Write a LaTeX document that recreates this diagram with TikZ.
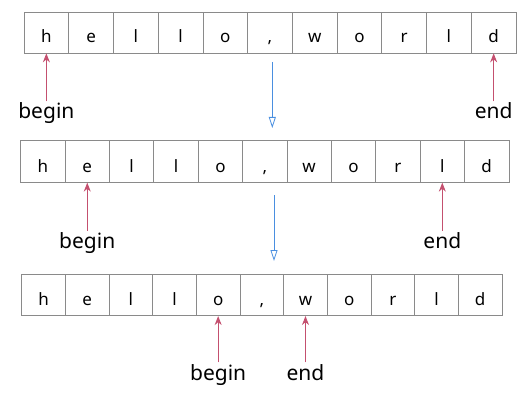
\documentclass[tikz,border=0pt]{standalone}
\usepackage{fontspec}
\setmainfont{Noto Sans}
\usetikzlibrary{arrows.meta}
\definecolor{cellgray}{HTML}{8A8A8A}
\definecolor{ptrred}{HTML}{C4506F}
\definecolor{flowblue}{HTML}{4A8FE0}
\tikzset{
  cellbox/.style={draw=cellgray, line width=0.7pt, inner sep=0pt, text height=21pt, text depth=0pt, font=\fontsize{17}{19}\selectfont},
  ptrlabel/.style={inner sep=1.5pt, anchor=base, font=\fontsize{21}{24}\selectfont},
  ptrarrow/.style={draw=ptrred, line width=1pt, -{Stealth[length=9pt,width=7pt]}},
  flowarrow/.style={draw=flowblue, line width=0.8pt, -{Triangle[open, length=11pt, width=7pt]}}
}
\begin{document}
\begin{tikzpicture}[x=1pt,y=-1pt]
\useasboundingbox (0,0) rectangle (531,404);
% row 1
\foreach \c [count=\i] in {h,e,l,l,o,{,},w,o,r,l,d}{
  \node[cellbox, minimum width=44.73pt, minimum height=41pt] (a\i) at ({24+44.73*(\i-0.5)},32.5) {\c};
}
% row 2
\foreach \c [count=\i] in {h,e,l,l,o,{,},w,o,r,l,d}{
  \node[cellbox, minimum width=44.38pt, minimum height=41.6pt] (b\i) at ({20.7+44.38*(\i-0.5)},161.5) {\c};
}
% row 3
\foreach \c [count=\i] in {h,e,l,l,o,{,},w,o,r,l,d}{
  \node[cellbox, minimum width=43.66pt, minimum height=41.7pt] (c\i) at ({21.7+43.66*(\i-0.5)},294.85) {\c};
}
% labels
\node[ptrlabel] (begA) at (a1 |- 0,119) {begin};
\node[ptrlabel] (endA) at (a11 |- 0,119) {end};
\node[ptrlabel] (begB) at (b2 |- 0,248.5) {begin};
\node[ptrlabel] (endB) at (b10 |- 0,248.5) {end};
\node[ptrlabel] (begC) at (c5 |- 0,380) {begin};
\node[ptrlabel] (endC) at (c7 |- 0,380) {end};
% pointer arrows
\draw[ptrarrow] (begA.north) -- (a1.south);
\draw[ptrarrow] (endA.north) -- (a11.south);
\draw[ptrarrow] (begB.north) -- (b2.south);
\draw[ptrarrow] (endB.north) -- (b10.south);
\draw[ptrarrow] (begC.north) -- (c5.south);
\draw[ptrarrow] (endC.north) -- (c7.south);
% flow arrows
\coordinate (f1s) at (272.3,62);
\coordinate (f1e) at (272.3,128);
\coordinate (f2s) at (274,195);
\coordinate (f2e) at (274,261);
\draw[flowarrow] (f1s) -- (f1e);
\draw[flowarrow] (f2s) -- (f2e);
\end{tikzpicture}
\end{document}
